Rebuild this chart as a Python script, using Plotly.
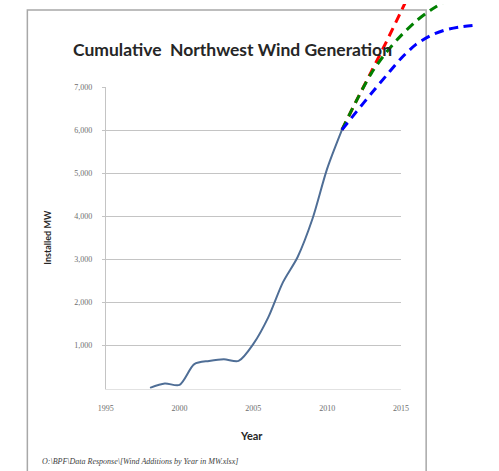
import plotly.graph_objects as go

# Installed wind capacity in the Northwest (MW), year-end values
years = [1998, 1999, 2000, 2001, 2002, 2003, 2004, 2005, 2006, 2007, 2008, 2009, 2010, 2011]
installed_mw = [20, 120, 90, 570, 645, 685, 645, 1040, 1650, 2470, 3060, 3940, 5110, 6010]

# Projected growth paths from 2011
high_years = [2011, 2012, 2013, 2014, 2015, 2016]
high_mw = [6010, 6700, 7370, 8050, 8760, 9470]

mid_years = [2011, 2012, 2013, 2014, 2015, 2016, 2017, 2018]
mid_mw = [6010, 6700, 7330, 7810, 8200, 8530, 8790, 9000]

low_years = [2011, 2012, 2013, 2014, 2015, 2016, 2017, 2018, 2019, 2020]
low_mw = [6010, 6440, 6860, 7270, 7670, 7990, 8200, 8330, 8400, 8440]

y_ticks = [1000, 2000, 3000, 4000, 5000, 6000, 7000]
x_ticks = [1995, 2000, 2005, 2010, 2015]

W, H = 499, 471

def px(x):
    return x / W

def py(y):
    return 1 - y / H

# plot area in pixels
PL, PR, PT, PB = 101, 406, 84, 388
X0, X1, Y0, Y1 = 1995, 2015, 0, 7000
xs = (PR - PL) / (X1 - X0)
ys = (PB - PT) / (Y1 - Y0)

fig = go.Figure()

fig.add_trace(go.Scatter(
    x=years, y=installed_mw, mode="lines",
    line=dict(color="#4f6e96", width=2, shape="spline", smoothing=0.8),
    xaxis="x", yaxis="y", showlegend=False, hoverinfo="skip",
))

for xv, yv, col in [(high_years, high_mw, "#ff0000"),
                    (mid_years, mid_mw, "#008000"),
                    (low_years, low_mw, "#0000ff")]:
    fig.add_trace(go.Scatter(
        x=xv, y=yv, mode="lines",
        line=dict(color=col, width=3, dash="9px,6px", shape="spline", smoothing=0.8),
        xaxis="x2", yaxis="y2", showlegend=False, hoverinfo="skip",
    ))

grid = "#c4c4c4"
tick_font = dict(family="Liberation Serif", size=8, color="#6e6e6e")

fig.update_layout(
    width=W, height=H,
    margin=dict(l=0, r=0, t=0, b=0),
    paper_bgcolor="white",
    plot_bgcolor="rgba(0,0,0,0)",
    xaxis=dict(
        domain=[px(PL), px(PR)], range=[X0, X1],
        tickvals=x_ticks, ticktext=[str(v) for v in x_ticks],
        showgrid=False, zeroline=False,
        showline=True, linecolor="#e2e2e2", linewidth=1,
        ticks="", ticklabelstandoff=12, tickfont=tick_font,
        anchor="y", fixedrange=True,
    ),
    yaxis=dict(
        domain=[py(PB), py(PT)], range=[Y0, Y1],
        tickvals=y_ticks, ticktext=[f"{v:,}" for v in y_ticks],
        showgrid=True, gridcolor=grid, gridwidth=1, zeroline=False,
        showline=True, linecolor=grid, linewidth=1,
        ticks="outside", ticklen=3, tickcolor=grid,
        ticklabelstandoff=8, tickfont=tick_font,
        anchor="x", fixedrange=True,
    ),
    # full-canvas axes sharing the plot's scale, so projections can run past the frame
    xaxis2=dict(
        domain=[0, 1], range=[X0 - PL / xs, X0 + (W - PL) / xs],
        visible=False, anchor="y2", fixedrange=True,
    ),
    yaxis2=dict(
        domain=[0, 1], range=[Y0 - (H - PB) / ys, Y1 + PT / ys],
        visible=False, anchor="x2", fixedrange=True,
    ),
)

# chart frame (left, top and right edges)
fig.add_shape(
    type="path", xref="paper", yref="paper", layer="below",
    path=f"M {px(20)},{py(471)} L {px(20)},{py(6)} L {px(432)},{py(6)} L {px(432)},{py(471)}",
    line=dict(color="#a8a8a8", width=1.5),
)

fig.add_annotation(
    x=px(232), y=py(46), xref="paper", yref="paper", showarrow=False,
    text="<b>Cumulative\u00a0 Northwest Wind Generation</b>",
    font=dict(family="Lato", size=17.5, color="#262626"),
    xanchor="center", yanchor="middle",
)
fig.add_annotation(
    x=px(40), y=py(235), xref="paper", yref="paper", showarrow=False,
    text="<b>Installed MW</b>", textangle=-90,
    font=dict(family="Lato", size=9, color="#262626"),
    xanchor="center", yanchor="middle",
)
fig.add_annotation(
    x=px(252), y=py(435), xref="paper", yref="paper", showarrow=False,
    text="<b>Year</b>",
    font=dict(family="Lato", size=11, color="#262626"),
    xanchor="center", yanchor="middle",
)
fig.add_annotation(
    x=px(33), y=py(461), xref="paper", yref="paper", showarrow=False,
    text="<i>O:\\BPF\\Data Response\\[Wind Additions by Year in MW.xlsx]</i>",
    font=dict(family="Liberation Serif", size=8, color="#404040"),
    xanchor="left", yanchor="middle",
)

fig.write_html("out.html")
